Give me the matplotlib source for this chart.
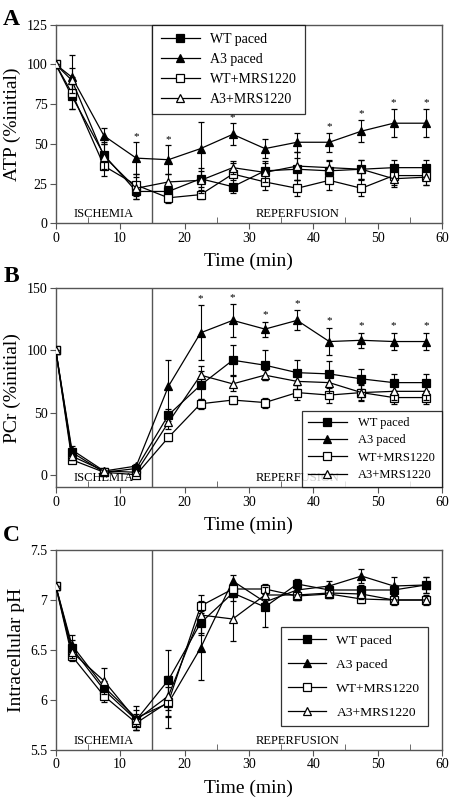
import numpy as np
import matplotlib
matplotlib.use("Agg")
import matplotlib.pyplot as plt
from matplotlib.lines import Line2D
from matplotlib.ticker import MultipleLocator

# time points (min)
time = [0, 2.5, 7.5, 12.5, 17.5, 22.5, 27.5, 32.5, 37.5, 42.5, 47.5, 52.5, 57.5]
labels = ["WT paced", "A3 paced", "WT+MRS1220", "A3+MRS1220"]

# panel A: ATP (% initial)
atp_wt = [100, 80, 43, 20, 20, 28, 23, 33, 34, 33, 34, 35, 35]
atp_a3 = [100, 92, 55, 41, 40, 47, 56, 47, 51, 51, 58, 63, 63]
atp_wt_mrs = [100, 82, 36, 24, 16, 18, 31, 26, 22, 27, 22, 30, 30]
atp_a3_mrs = [100, 90, 42, 22, 26, 27, 35, 32, 36, 35, 34, 28, 29]
atp_wt_err = [0, 8, 8, 5, 4, 5, 4, 6, 7, 6, 6, 5, 5]
atp_a3_err = [0, 14, 5, 10, 9, 17, 7, 6, 6, 6, 7, 9, 9]
atp_wt_mrs_err = [0, 10, 6, 7, 3, 3, 7, 5, 5, 6, 5, 6, 6]
atp_a3_mrs_err = [0, 8, 8, 7, 5, 8, 4, 6, 9, 5, 6, 5, 5]
atp_stars = [12.5, 17.5, 27.5, 42.5, 47.5, 52.5, 57.5]

# panel B: PCr (% initial)
pcr_wt = [100, 18, 2, 5, 48, 72, 92, 88, 82, 81, 77, 74, 74]
pcr_a3 = [100, 20, 3, 7, 71, 114, 124, 117, 124, 107, 108, 107, 107]
pcr_wt_mrs = [100, 12, 2, 0, 30, 57, 60, 58, 66, 64, 66, 62, 62]
pcr_a3_mrs = [100, 15, 3, 2, 42, 80, 73, 80, 75, 74, 66, 67, 67]
pcr_wt_err = [0, 3, 1, 2, 5, 11, 12, 12, 10, 10, 8, 7, 7]
pcr_a3_err = [0, 3, 1, 2, 21, 22, 13, 6, 8, 11, 6, 7, 7]
pcr_wt_mrs_err = [0, 2, 1, 1, 3, 4, 3, 4, 6, 6, 7, 5, 5]
pcr_a3_mrs_err = [0, 3, 1, 2, 5, 7, 6, 4, 6, 8, 6, 7, 7]
pcr_stars = [22.5, 27.5, 32.5, 37.5, 42.5, 47.5, 52.5, 57.5]

# panel C: intracellular pH
ph_wt = [7.14, 6.52, 6.10, 5.80, 6.20, 6.77, 7.07, 6.93, 7.16, 7.10, 7.10, 7.10, 7.15]
ph_a3 = [7.14, 6.55, 6.13, 5.82, 5.97, 6.52, 7.19, 6.98, 7.10, 7.14, 7.24, 7.14, 7.15]
ph_wt_mrs = [7.14, 6.44, 6.04, 5.77, 5.98, 6.94, 7.11, 7.11, 7.04, 7.06, 7.01, 7.00, 7.00]
ph_a3_mrs = [7.14, 6.48, 6.19, 5.80, 6.04, 6.85, 6.81, 7.05, 7.05, 7.07, 7.06, 7.00, 7.00]
ph_wt_err = [0, 0.08, 0.06, 0.10, 0.30, 0.10, 0.08, 0.20, 0.05, 0.05, 0.05, 0.05, 0.08]
ph_a3_err = [0, 0.10, 0.06, 0.12, 0.25, 0.32, 0.06, 0.08, 0.05, 0.05, 0.07, 0.09, 0.08]
ph_wt_mrs_err = [0, 0.05, 0.06, 0.07, 0.15, 0.05, 0.05, 0.05, 0.04, 0.04, 0.04, 0.04, 0.04]
ph_a3_mrs_err = [0, 0.06, 0.13, 0.06, 0.20, 0.20, 0.22, 0.08, 0.05, 0.05, 0.05, 0.05, 0.05]

plt.rcParams['font.family'] = ['Liberation Serif', 'DejaVu Serif']

GRAY = '#555555'
styles = [
    dict(marker='s', mfc='black', mec='black'),
    dict(marker='^', mfc='black', mec='black'),
    dict(marker='s', mfc='white', mec='black'),
    dict(marker='^', mfc='white', mec='black'),
]


def draw_panel(ax, series, errs, ylim, ystep, ylabel, stars=None, star_off=0,
               legend_kw=None, fmt=None):
    for i, (y, e) in enumerate(zip(series, errs)):
        ax.errorbar(time, y, yerr=e, color='black', lw=0.9, ms=5.5, mew=0.9,
                    elinewidth=0.8, capsize=2.5, capthick=0.8, zorder=3 + i, **styles[i])
    if stars is not None:
        for t in stars:
            k = time.index(t)
            ax.text(t, series[1][k] + errs[1][k] + star_off, '*', ha='center',
                    va='bottom', fontsize=8)
    ax.axvline(15, color=GRAY, lw=1.0, zorder=1)
    ax.set_xlim(0, 60)
    ax.set_ylim(*ylim)
    ax.xaxis.set_major_locator(MultipleLocator(10))
    ax.xaxis.set_minor_locator(MultipleLocator(5))
    ax.yaxis.set_major_locator(MultipleLocator(ystep))
    if fmt is not None:
        ax.yaxis.set_major_formatter(fmt)
    ax.tick_params(axis='x', which='major', direction='out', length=4, color=GRAY,
                   labelsize=10, pad=2)
    ax.tick_params(axis='x', which='minor', direction='in', length=4, color=GRAY)
    ax.tick_params(axis='y', which='major', direction='out', length=4, color=GRAY,
                   labelsize=10, pad=2)
    for sp in ax.spines.values():
        sp.set_color(GRAY)
        sp.set_linewidth(1.0)
    ax.set_xlabel('Time (min)', fontsize=14, labelpad=6)
    ax.set_ylabel(ylabel, fontsize=14, labelpad=4)
    yb = ylim[0] + 0.015 * (ylim[1] - ylim[0])
    ax.text(7.5, yb, 'ISCHEMIA', ha='center', va='bottom', fontsize=9)
    ax.text(37.5, yb, 'REPERFUSION', ha='center', va='bottom', fontsize=9)

    handles = [Line2D([], [], color='black', lw=0.9, ms=5.5, mew=0.9, **s) for s in styles]
    leg = ax.legend(handles, labels, frameon=True, fancybox=False, edgecolor='black',
                    borderaxespad=0, **legend_kw)
    leg.get_frame().set_linewidth(0.9)
    leg.set_zorder(10)


fig = plt.figure(figsize=[4.5, 8], dpi=100)
axA = fig.add_axes([0.124, 0.721, 0.858, 0.248])
axB = fig.add_axes([0.124, 0.391, 0.858, 0.249])
axC = fig.add_axes([0.124, 0.0625, 0.858, 0.25])

draw_panel(axA, [atp_wt, atp_a3, atp_wt_mrs, atp_a3_mrs],
           [atp_wt_err, atp_a3_err, atp_wt_mrs_err, atp_a3_mrs_err],
           (0, 125), 25, 'ATP (%initial)', stars=atp_stars, star_off=1,
           legend_kw=dict(loc='upper left', bbox_to_anchor=(0.25, 1.0), fontsize=10,
                          handlelength=2.8, handletextpad=0.75, labelspacing=0.5,
                          borderpad=0.6))

draw_panel(axB, [pcr_wt, pcr_a3, pcr_wt_mrs, pcr_a3_mrs],
           [pcr_wt_err, pcr_a3_err, pcr_wt_mrs_err, pcr_a3_mrs_err],
           (-10, 150), 50, 'PCr (%initial)', stars=pcr_stars, star_off=2,
           legend_kw=dict(loc='lower right', bbox_to_anchor=(1.0, 0.0), fontsize=9,
                          handlelength=3.1, handletextpad=0.9, labelspacing=0.42,
                          borderpad=0.5))

draw_panel(axC, [ph_wt, ph_a3, ph_wt_mrs, ph_a3_mrs],
           [ph_wt_err, ph_a3_err, ph_wt_mrs_err, ph_a3_mrs_err],
           (5.5, 7.5), 0.5, 'Intracellular pH',
           legend_kw=dict(loc='lower right', bbox_to_anchor=(0.964, 0.12), fontsize=9.7,
                          handlelength=2.8, handletextpad=0.8, labelspacing=0.85,
                          borderpad=0.55),
           fmt=plt.FuncFormatter(lambda v, p: f'{v:g}'))

# panel letters
for letter, ybase in [('A', 0.969), ('B', 0.6475), ('C', 0.324)]:
    fig.text(0.007, ybase, letter, fontsize=17, fontweight='bold', va='baseline', ha='left')

fig.savefig('out.png', dpi=100)
